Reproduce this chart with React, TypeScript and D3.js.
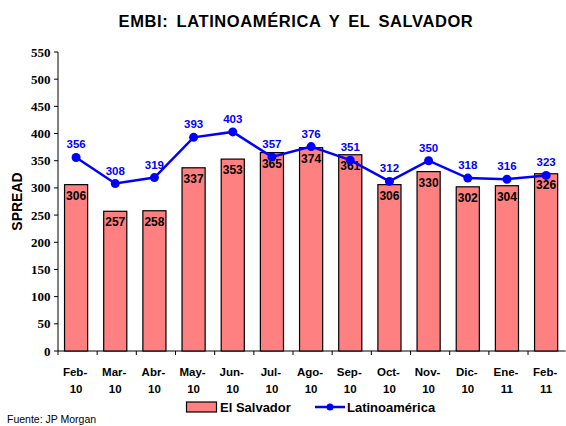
import React from "react";
import * as d3 from "d3";

const months = ["Feb-|10", "Mar-|10", "Abr-|10", "May-|10", "Jun-|10", "Jul-|10", "Ago-|10", "Sep-|10", "Oct-|10", "Nov-|10", "Dic-|10", "Ene-|11", "Feb-|11"];
const elSalvador = [306, 257, 258, 337, 353, 365, 374, 361, 306, 330, 302, 304, 326];
const latinoamerica = [356, 308, 319, 393, 403, 357, 376, 351, 312, 350, 318, 316, 323];
const yTicks = [0, 50, 100, 150, 200, 250, 300, 350, 400, 450, 500, 550];

const W = 566;
const H = 426;
const left = 56.5;
const right = 565.7;
const top = 52;
const bottom = 351;
const sans = "'Liberation Sans', Arial, sans-serif";
const serif = "'Liberation Serif', 'Times New Roman', serif";

export default function App() {
  const x = d3.scaleBand<string>().domain(months).range([left, right]).paddingInner(0.41).paddingOuter(0.205);
  const y = d3.scaleLinear().domain([0, 550]).range([bottom, top]);
  const cx = (m: string) => (x(m) as number) + x.bandwidth() / 2;
  const line = d3
    .line<number>()
    .x((_, i) => cx(months[i]))
    .y((d) => y(d));
  const step = (right - left) / months.length;

  return (
    <svg width={W} height={H} style={{ position: "absolute", left: 0, top: 0, background: "#fff" }}>
      <text x={296} y={27} textAnchor="middle" fontFamily={sans} fontWeight="bold" fontSize={16.5} letterSpacing={0.6} wordSpacing={3}>
        EMBI: LATINOAMÉRICA Y EL SALVADOR
      </text>

      {/* y axis */}
      <line x1={left + 1.5} x2={left + 1.5} y1={top} y2={bottom} stroke="#000" />
      {yTicks.map((t) => (
        <g key={t}>
          <line x1={left - 2.5} x2={left + 1.5} y1={y(t)} y2={y(t)} stroke="#000" />
          <text x={left - 6} y={y(t) + 4.5} textAnchor="end" fontFamily={serif} fontWeight="bold" fontSize={13}>
            {t}
          </text>
        </g>
      ))}
      <text transform={`translate(22,${(top + bottom) / 2}) rotate(-90)`} textAnchor="middle" fontFamily={sans} fontWeight="bold" fontSize={14}>
        SPREAD
      </text>

      {/* x axis */}
      <line x1={left + 1.5} x2={right} y1={bottom} y2={bottom} stroke="#000" />
      {months.map((m, i) => (
        <line key={m} x1={left + 1.5 + step * i} x2={left + 1.5 + step * i} y1={bottom} y2={bottom + 4} stroke="#000" />
      ))}
      {months.map((m) => {
        const [a, b] = m.split("|");
        return (
          <text key={m} x={cx(m)} textAnchor="middle" fontFamily={sans} fontWeight="bold" fontSize={11.5}>
            <tspan x={cx(m) - 1} y={376}>{a}</tspan>
            <tspan x={cx(m)} y={393}>{b}</tspan>
          </text>
        );
      })}

      {/* bars */}
      {elSalvador.map((v, i) => (
        <g key={months[i]}>
          <rect x={x(months[i])} y={y(v)} width={x.bandwidth()} height={bottom - y(v)} fill="#FF8080" stroke="#000" strokeWidth={1.2} />
          <text x={cx(months[i])} y={y(v) + 15} textAnchor="middle" fontFamily={sans} fontWeight="bold" fontSize={12}>
            {v}
          </text>
        </g>
      ))}

      {/* line */}
      <path d={line(latinoamerica) || ""} fill="none" stroke="#0000FF" strokeWidth={2.5} />
      {latinoamerica.map((v, i) => (
        <g key={months[i]}>
          <circle cx={cx(months[i])} cy={y(v)} r={4.5} fill="#0000FF" />
          <text x={cx(months[i])} y={y(v) - 9} textAnchor="middle" fontFamily={sans} fontWeight="bold" fontSize={11.5} fill="#0000FF">
            {v}
          </text>
        </g>
      ))}

      {/* legend */}
      <rect x={186.5} y={402} width={30} height={10} fill="#FF8080" stroke="#000" strokeWidth={1.2} />
      <text x={220} y={412} fontFamily={sans} fontWeight="bold" fontSize={13}>El Salvador</text>
      <line x1={315} x2={345} y1={407} y2={407} stroke="#0000FF" strokeWidth={2.5} />
      <circle cx={330} cy={407} r={3.5} fill="#0000FF" />
      <text x={347} y={412} fontFamily={sans} fontWeight="bold" fontSize={13}>Latinoamérica</text>

      <text x={7} y={423} fontFamily={sans} fontSize={10.5}>Fuente: JP Morgan</text>
    </svg>
  );
}
